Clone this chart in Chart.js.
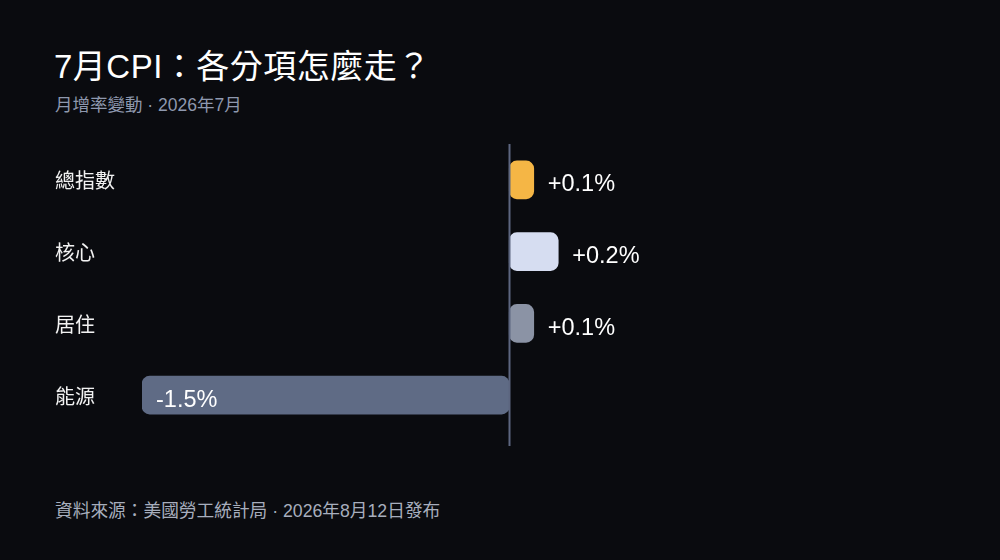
<!DOCTYPE html>
<html lang="zh-Hant">
<head>
  <meta charset="UTF-8" />
  <title>7月CPI：各分項怎麼走？</title>
  <script src="https://cdn.jsdelivr.net/npm/chart.js"></script>
  <style>
    * { box-sizing: border-box; }
    body {
      margin: 0;
      width: 1000px;
      height: 560px;
      background: #0a0b0f;
      font-family: 'Liberation Sans', 'Noto Sans CJK TC', sans-serif;
      position: relative;
      overflow: hidden;
    }
    h1 {
      position: absolute;
      left: 54px;
      top: 40px;
      margin: 0;
      font-size: 33px;
      font-weight: 400;
      color: #ffffff;
      letter-spacing: 0.5px;
    }
    .sub {
      position: absolute;
      left: 55px;
      top: 91px;
      font-size: 17.5px;
      color: #8e98ae;
    }
    .foot {
      position: absolute;
      left: 55px;
      top: 496px;
      font-size: 17.7px;
      color: #a7aebd;
    }
    canvas { position: absolute; left: 0; top: 0; }
  </style>
</head>
<body>
  <h1>7月CPI：各分項怎麼走？</h1>
  <div class="sub">月增率變動 · 2026年7月</div>
  <div class="foot">資料來源：美國勞工統計局 · 2026年8月12日發布</div>
  <canvas id="cpiChart" width="1000" height="560"></canvas>

  <script>
    const categories = ['總指數', '核心', '居住', '能源'];
    const changes = [0.1, 0.2, 0.1, -1.5];
    const barColors = ['#f5b645', '#d6ddf1', '#8b93a5', '#5f6b85'];

    // zero line, runs a bit below the last bar
    const zeroLine = {
      id: 'zeroLine',
      afterDatasetsDraw(chart) {
        const { ctx, chartArea, scales } = chart;
        const x = Math.round(scales.x.getPixelForValue(0)) + 0.5;
        ctx.save();
        ctx.strokeStyle = '#5d6680';
        ctx.lineWidth = 2;
        ctx.beginPath();
        ctx.moveTo(x, chartArea.top);
        ctx.lineTo(x, chartArea.bottom + 15);
        ctx.stroke();
        ctx.restore();
      }
    };

    const valueLabels = {
      id: 'valueLabels',
      afterDatasetsDraw(chart) {
        const { ctx } = chart;
        const meta = chart.getDatasetMeta(0);
        ctx.save();
        ctx.font = '23.5px "Liberation Sans", "Noto Sans CJK TC", sans-serif';
        ctx.fillStyle = '#ffffff';
        ctx.textBaseline = 'middle';
        ctx.textAlign = 'left';
        meta.data.forEach((bar, i) => {
          const v = changes[i];
          const txt = (v > 0 ? '+' : '') + v.toFixed(1) + '%';
          // positive: just past the bar end, negative: inside from the left
          ctx.fillText(txt, bar.x + 14, bar.y + 5);
        });
        ctx.restore();
      }
    };

    new Chart(document.getElementById('cpiChart'), {
      type: 'bar',
      data: {
        labels: categories,
        datasets: [{
          data: changes,
          backgroundColor: barColors,
          borderRadius: 8,
          borderSkipped: false,
          barThickness: 38
        }]
      },
      options: {
        indexAxis: 'y',
        responsive: false,
        animation: false,
        layout: { padding: { top: 144, bottom: 129, left: 55, right: 50 } },
        plugins: {
          legend: { display: false },
          tooltip: { enabled: false }
        },
        scales: {
          x: {
            min: -1.5,
            max: 1.8,
            display: false,
            grid: { display: false }
          },
          y: {
            grid: { display: false },
            border: { display: false },
            afterFit(scale) { scale.width = 87; },
            ticks: {
              crossAlign: 'far',
              padding: 0,
              labelOffset: 3,
              color: '#f2f2f2',
              font: { size: 20, family: '"Liberation Sans", "Noto Sans CJK TC", sans-serif' }
            }
          }
        }
      },
      plugins: [zeroLine, valueLabels]
    });
  </script>
</body>
</html>
